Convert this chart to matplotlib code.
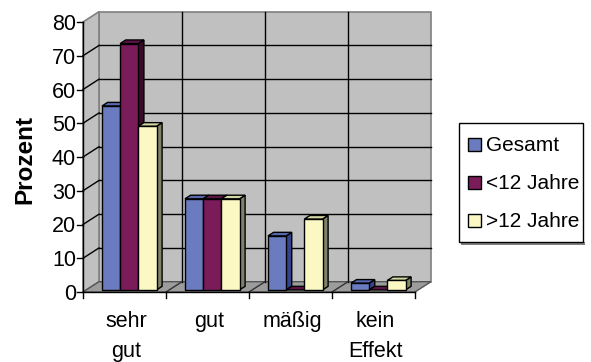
import matplotlib
matplotlib.use("Agg")
import matplotlib.pyplot as plt
from matplotlib.patches import Polygon, Rectangle
from matplotlib.transforms import offset_copy

plt.rcParams['font.family'] = ['Liberation Sans', 'DejaVu Sans']

categories = ["sehr\ngut", "gut", "mäßig", "kein\nEffekt"]
series_names = ["Gesamt", "<12 Jahre", ">12 Jahre"]
gesamt = [54.5, 27, 16, 2]
unter12 = [73, 27, 0, 0]
ueber12 = [48.5, 27, 21, 2.8]
series_values = [gesamt, unter12, ueber12]
y_ticks = [0, 10, 20, 30, 40, 50, 60, 70, 80]

front_colors = ["#6a7cbf", "#7a1b5a", "#fbf8c4"]
top_colors = ["#5868b0", "#5e1346", "#d4d6a6"]
side_colors = ["#34438a", "#3a0a2a", "#7e836a"]

FS = 15.5
W, H = 591, 362
fig = plt.figure(figsize=(W / 100, H / 100), dpi=100)
# front plane of the 3D box: x 83..415 px, y 22..292 px
ax = fig.add_axes([83 / W, (H - 292) / H, 332 / W, 270 / H])
ax.set_xlim(0, 4)
ax.set_ylim(0, 80)
ax.axis("off")

DX = 16 / 83.0          # depth offset in x data units
DY = 10.3 / 3.375       # depth offset in y data units
wall = "#c0c0c0"
floor = "#9c9c9c"
edge_gray = "#808080"


def poly(pts, fc, ec, lw=1.0, z=1):
    ax.add_patch(Polygon(pts, closed=True, facecolor=fc, edgecolor=ec,
                         linewidth=lw, zorder=z, clip_on=False,
                         joinstyle="miter"))


def shifted(dx, dy):
    return offset_copy(ax.transData, fig, x=dx, y=dy, units="dots")


ymax = y_ticks[-1]
n = len(categories)
# walls and floor
poly([(DX, DY), (n + DX, DY), (n + DX, ymax + DY), (DX, ymax + DY)], wall, edge_gray, 1.2, 1)
poly([(0, 0), (DX, DY), (DX, ymax + DY), (0, ymax)], wall, edge_gray, 1.2, 1)
poly([(0, 0), (n, 0), (n + DX, DY), (DX, DY)], floor, "#555555", 1.0, 1)

# gridlines on the back and side walls, category dividers on the floor
for v in y_ticks[1:-1]:
    ax.plot([DX, n + DX], [v + DY, v + DY], color="black", lw=1.0, zorder=2, clip_on=False)
    ax.plot([0, DX], [v, v + DY], color="black", lw=1.0, zorder=2, clip_on=False)
for i in range(1, n):
    ax.plot([i + DX, i + DX], [DY, ymax + DY], color="black", lw=1.0, zorder=2, clip_on=False)
    ax.plot([i, i + DX], [0, DY], color="#333333", lw=1.0, zorder=2, clip_on=False)

# axis lines, ticks and tick labels
ax.plot([0, 0], [0, ymax], color="black", lw=1.0, zorder=6, clip_on=False)
ax.plot([0, n], [0, 0], color="black", lw=1.0, zorder=6, clip_on=False)
for v in y_ticks:
    ax.plot([0, -6 / 83.0], [v, v], color="black", lw=1.0, zorder=6, clip_on=False)
    ax.text(0, v, str(v), transform=shifted(-7, -8),
            ha="right", va="baseline", fontsize=FS)
for i in range(n + 1):
    ax.plot([i, i], [0, -6 / 3.375], color="black", lw=1.0, zorder=6, clip_on=False)

# 3D columns: side face, top face, front face
bar_w = 0.219
start = 0.19
f0, f1 = 0.2, 0.55
for c in range(n):
    for s, vals in enumerate(series_values):
        v = vals[c]
        x0 = c + start + s * bar_w + f0 * DX
        y0 = f0 * DY
        ddx = (f1 - f0) * DX
        ddy = (f1 - f0) * DY
        z = 3 + 0.1 * s
        poly([(x0 + bar_w, y0), (x0 + bar_w + ddx, y0 + ddy),
              (x0 + bar_w + ddx, y0 + v + ddy), (x0 + bar_w, y0 + v)],
             side_colors[s], "black", 1.0, z)
        poly([(x0, y0 + v), (x0 + bar_w, y0 + v), (x0 + bar_w + ddx, y0 + v + ddy),
              (x0 + ddx, y0 + v + ddy)], top_colors[s], "black", 1.0, z)
        if v > 0:
            poly([(x0, y0), (x0 + bar_w, y0), (x0 + bar_w, y0 + v), (x0, y0 + v)],
                 front_colors[s], "black", 1.0, z)

# category labels, one text per line
for i, lab in enumerate(categories):
    for k, line in enumerate(lab.split("\n")):
        ax.text(i + 0.5, 0, line, transform=shifted(2, -35 - 30 * k),
                ha="center", va="baseline", fontsize=FS)

fig.text(25 / W, 1 - 160 / H, "Prozent", rotation=90, ha="center", va="center",
         fontsize=17.5, fontweight="bold")


# legend box with shadow
def fx(px):
    return px / W


def fy(py):
    return 1 - py / H


fig.patches.append(Rectangle((fx(461), fy(245)), 124 / W, 3 / H,
                             transform=fig.transFigure, facecolor="#808080",
                             edgecolor="none", zorder=0))
fig.patches.append(Rectangle((fx(459), fy(242)), 124 / W, 119 / H,
                             transform=fig.transFigure, facecolor="white",
                             edgecolor="black", linewidth=1.0, zorder=1))
baselines = [151, 189, 227]
for k, name in enumerate(series_names):
    b = baselines[k]
    fig.patches.append(Rectangle((fx(468), fy(b)), 13 / W, 13 / H,
                                 transform=fig.transFigure, facecolor=front_colors[k],
                                 edgecolor="black", linewidth=1.0, zorder=2))
    fig.text(fx(486), fy(b), name, ha="left", va="baseline", fontsize=15, zorder=3)

fig.savefig("out.png", dpi=100)
